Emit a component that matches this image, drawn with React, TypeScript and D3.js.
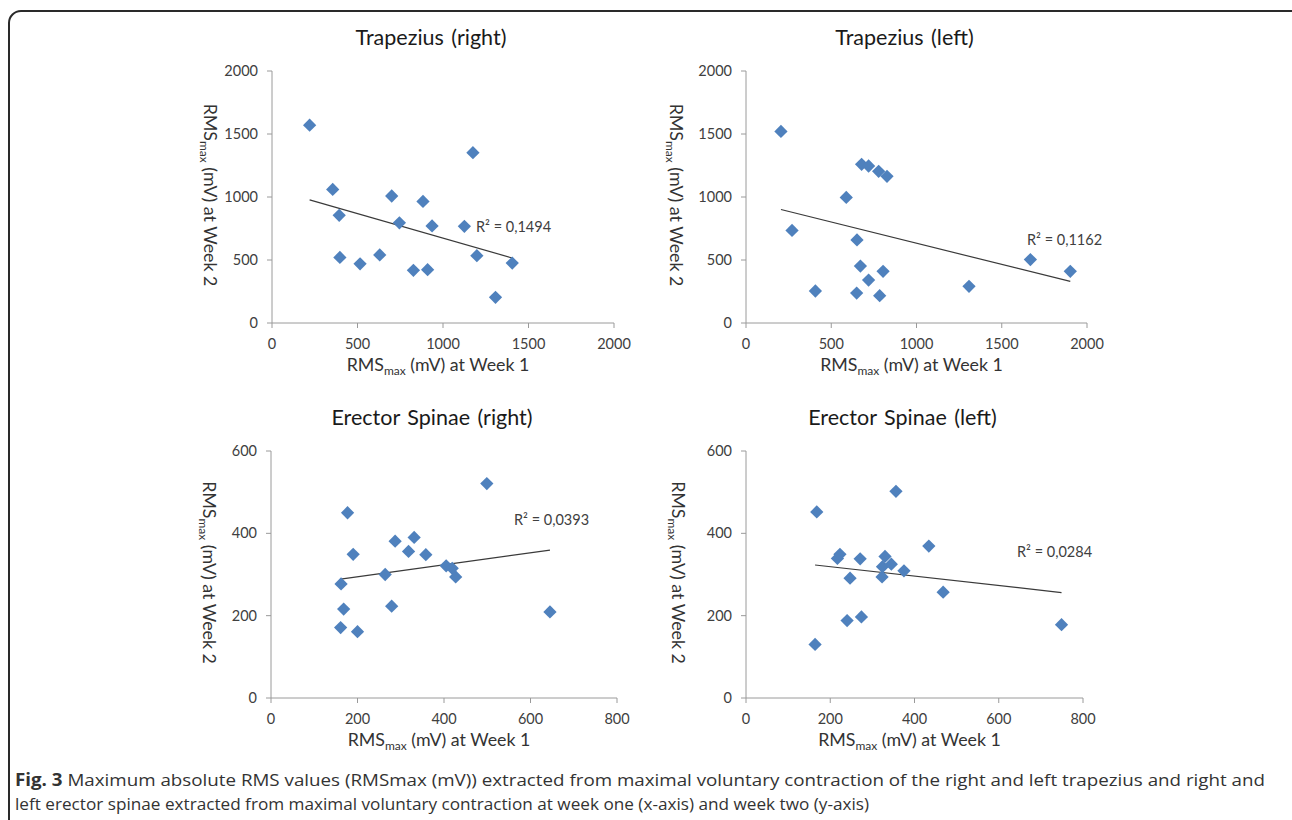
import React from 'react';
import * as d3 from 'd3';

// week 1 / week 2 RMSmax (mV) per muscle
const trapRightWeek1 = [220, 355, 393, 397, 515, 630, 700, 745, 827, 883, 910, 936, 1125, 1175, 1198, 1307, 1405];
const trapRightWeek2 = [1570, 1060, 855, 520, 470, 540, 1008, 795, 418, 965, 423, 770, 767, 1352, 534, 204, 476];

const trapLeftWeek1 = [205, 270, 407, 588, 651, 649, 671, 678, 719, 719, 778, 784, 804, 827, 1308, 1668, 1902];
const trapLeftWeek2 = [1520, 735, 254, 997, 659, 238, 452, 1259, 1246, 341, 1204, 217, 410, 1164, 291, 503, 410];

const erectRightWeek1 = [161, 162, 168, 177, 190, 200, 264, 279, 287, 318, 331, 358, 405, 419, 427, 499, 645];
const erectRightWeek2 = [171, 277, 216, 450, 349, 161, 300, 223, 381, 356, 390, 348, 321, 315, 294, 521, 209];

const erectLeftWeek1 = [164, 168, 217, 223, 240, 247, 271, 274, 323, 324, 330, 345, 356, 375, 434, 468, 749];
const erectLeftWeek2 = [130, 452, 339, 349, 188, 291, 338, 197, 294, 319, 344, 325, 502, 309, 369, 257, 178];

const trapTicks = [0, 500, 1000, 1500, 2000];
const erectXTicks = [0, 200, 400, 600, 800];
const erectYTicks = [0, 200, 400, 600];

const panelTitles = ['Trapezius (right)', 'Trapezius (left)', 'Erector Spinae (right)', 'Erector Spinae (left)'];
const r2Labels = ['R² = 0,1494', 'R² = 0,1162', 'R² = 0,0393', 'R² = 0,0284'];

const FONT = "Lato, 'Open Sans', sans-serif";
const BLUE = '#4F81BD';

// plot boxes in page pixels
const layout = [
  {left: 272, right: 614, top: 71, bottom: 323, yTitleDx: -68, r2: [204, 161]},
  {left: 746, right: 1087, top: 71, bottom: 323, yTitleDx: -76, r2: [281, 174]},
  {left: 271, right: 617, top: 451, bottom: 698, yTitleDx: -68, r2: [243, 74]},
  {left: 746, right: 1083, top: 451, bottom: 698, yTitleDx: -74, r2: [271, 106]},
];

const panels = [
  {xs: trapRightWeek1, ys: trapRightWeek2, xTicks: trapTicks, yTicks: trapTicks},
  {xs: trapLeftWeek1, ys: trapLeftWeek2, xTicks: trapTicks, yTicks: trapTicks},
  {xs: erectRightWeek1, ys: erectRightWeek2, xTicks: erectXTicks, yTicks: erectYTicks},
  {xs: erectLeftWeek1, ys: erectLeftWeek2, xTicks: erectXTicks, yTicks: erectYTicks},
];

const diamond = d3.symbol(d3.symbolSquare, 88)();

function fit(xs, ys) {
  const mx = d3.mean(xs), my = d3.mean(ys);
  let sxy = 0, sxx = 0;
  xs.forEach((x, i) => { sxy += (x - mx) * (ys[i] - my); sxx += (x - mx) * (x - mx); });
  const b = sxy / sxx;
  return (x) => my + b * (x - mx);
}

const Panel = ({p, box, title, r2}) => {
  const x = d3.scaleLinear().domain(d3.extent(p.xTicks)).range([box.left, box.right]);
  const y = d3.scaleLinear().domain(d3.extent(p.yTicks)).range([box.bottom, box.top]);
  const line = fit(p.xs, p.ys);
  const [x0, x1] = d3.extent(p.xs);
  const cx = (box.left + box.right) / 2;
  const cy = (box.top + box.bottom) / 2;

  return <g fontFamily={FONT}>
    <text x={cx - 12} y={box.top - 26} textAnchor="middle" fontSize={21.5} wordSpacing={2} fill="#1a1a1a">{title}</text>

    {/* axes */}
    <line x1={box.left} x2={box.right} y1={box.bottom} y2={box.bottom} stroke="#9a9a9a" />
    <line x1={box.left} x2={box.left} y1={box.top} y2={box.bottom} stroke="#9a9a9a" />
    {p.xTicks.map(t => <g key={'x' + t}>
      <line x1={x(t)} x2={x(t)} y1={box.bottom} y2={box.bottom + 5} stroke="#9a9a9a" />
      <text x={x(t)} y={box.bottom + 26} textAnchor="middle" fontSize={14.5} fill="#404040">{t}</text>
    </g>)}
    {p.yTicks.map(t => <g key={'y' + t}>
      <line x1={box.left - 5} x2={box.left} y1={y(t)} y2={y(t)} stroke="#9a9a9a" />
      <text x={box.left - 14} y={y(t)} dy="0.35em" textAnchor="end" fontSize={14.5} fill="#404040">{t}</text>
    </g>)}

    {/* axis titles */}
    <text x={cx - 5} y={box.bottom + 48} textAnchor="middle" fontSize={17.8} fill="#333">
      RMS<tspan fontSize={12} dy={4}>max</tspan><tspan dy={-4}> (mV) at Week 1</tspan>
    </text>
    <text transform={`translate(${box.left + box.yTitleDx},${cy - 2}) rotate(90)`} textAnchor="middle" fontSize={17.8} fill="#333">
      RMS<tspan fontSize={12} dy={4}>max</tspan><tspan dy={-4}> (mV) at Week 2</tspan>
    </text>

    {/* trendline */}
    <line x1={x(x0)} y1={y(line(x0))} x2={x(x1)} y2={y(line(x1))} stroke="#3a3a3a" strokeWidth={1.2} />

    {p.xs.map((v, i) =>
      <path key={i} d={diamond} fill={BLUE} transform={`translate(${x(v)},${y(p.ys[i])}) rotate(45)`} />
    )}

    <text x={box.left + box.r2[0]} y={box.top + box.r2[1]} fontSize={14.5} fill="#404040">{r2}</text>
  </g>
};

export default function App() {
  return <svg width={1292} height={820} style={{position: 'absolute', left: 0, top: 0, background: '#fff'}}>
    <rect x={9} y={11} width={1300} height={840} rx={12} fill="#fff" stroke="#2a2a2a" strokeWidth={2} />
    {panels.map((p, i) =>
      <Panel key={i} p={p} box={layout[i]} title={panelTitles[i]} r2={r2Labels[i]} />
    )}
    <g fontFamily="'Open Sans', sans-serif" fontSize={17} fill="#333">
      <text x={15} y={786} textLength={1250} lengthAdjust="spacingAndGlyphs">
        <tspan fontWeight="bold">Fig. 3</tspan> Maximum absolute RMS values (RMSmax (mV)) extracted from maximal voluntary contraction of the right and left trapezius and right and
      </text>
      <text x={15} y={810} textLength={854} lengthAdjust="spacingAndGlyphs">
        left erector spinae extracted from maximal voluntary contraction at week one (x-axis) and week two (y-axis)
      </text>
    </g>
  </svg>
}
